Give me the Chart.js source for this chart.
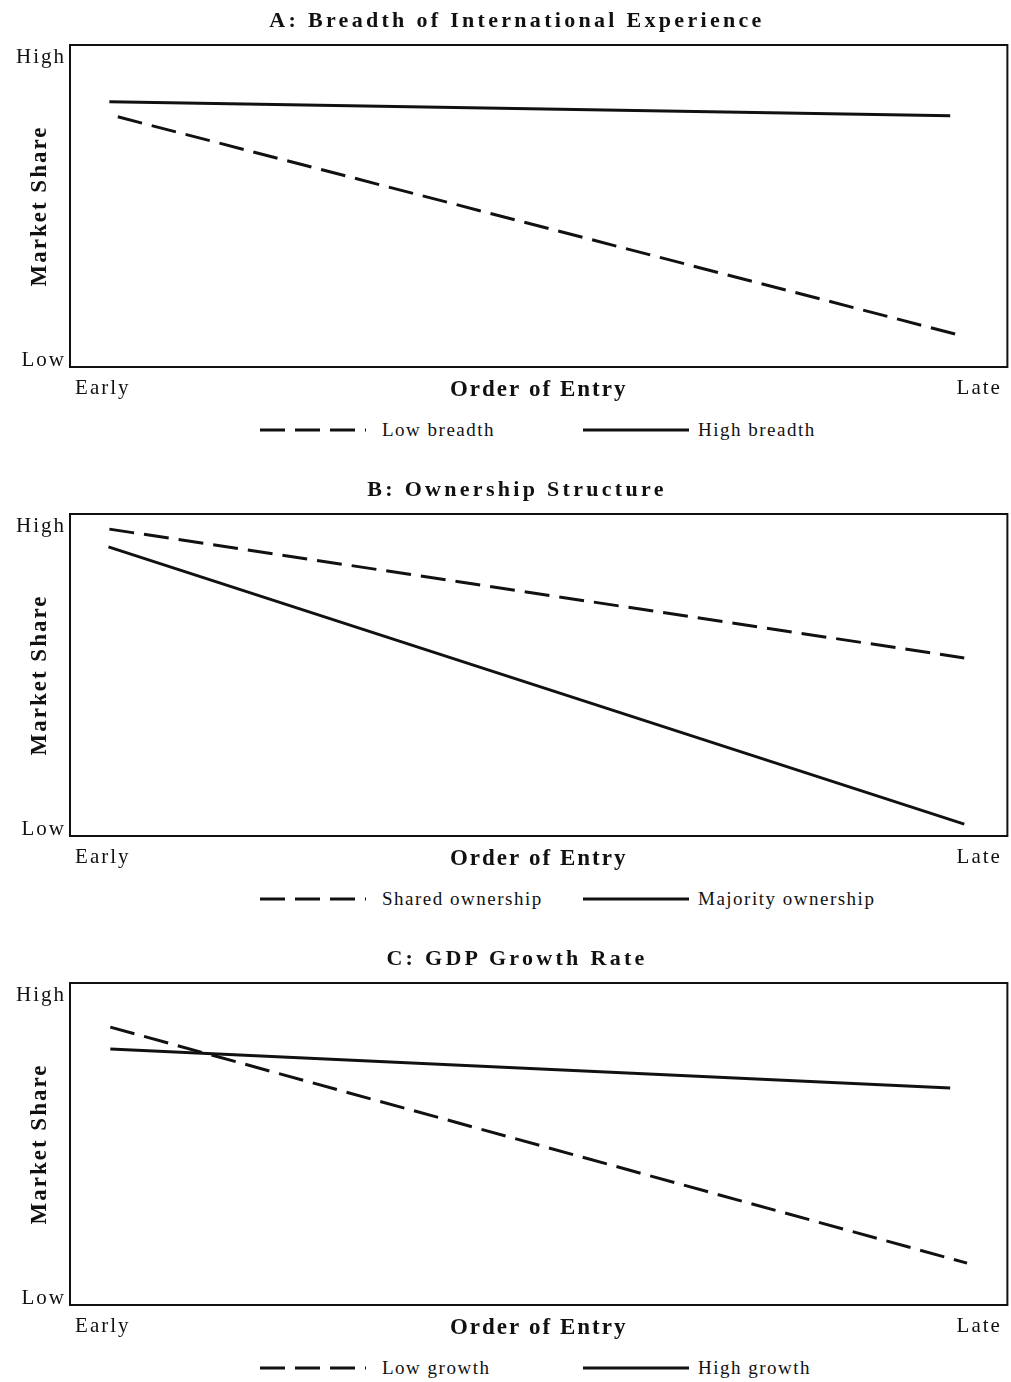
<!DOCTYPE html>
<html>
<head>
<meta charset="utf-8">
<script src="https://cdn.jsdelivr.net/npm/chart.js@4"></script>
<style>
  body { margin: 0; background: #fff; overflow: hidden; font-family: "Liberation Serif", serif; color: #111; }
  .panel { position: relative; width: 1011px; height: 469px; }
  .panel canvas { position: absolute; top: 0; left: 0; }
  .title { position: absolute; top: 7px; left: 0; width: 1034px; text-align: center; font-weight: bold;
           font-size: 22px; letter-spacing: 3.3px; line-height: 26px; }
  .legend { position: absolute; top: 418px; left: 260px; display: flex;
            font-size: 19px; letter-spacing: 1.5px; line-height: 24px; }
  .item { display: flex; align-items: center; }
  .item.first { width: 323px; }
  .item svg { margin-right: 9px; }
  .item.first svg { margin-right: 16px; }
</style>
</head>
<body>
<div id="page"></div>
<script>
// Textos de los paneles
const titles = ['A: Breadth of International Experience', 'B: Ownership Structure', 'C: GDP Growth Rate'];
const dashedNames = ['Low breadth', 'Shared ownership', 'Low growth'];
const solidNames = ['High breadth', 'Majority ownership', 'High growth'];

// Ejes: etiquetas y posiciones de los ticks (escala 0-100)
const xTickLabels = ['Early', 'Late'];
const xTickValues = [3.5, 97];
const yTickLabels = ['Low', 'High'];
const yTickValues = [2, 96];

// Datos (x = orden de entrada, y = cuota de mercado)
const dashedX = [[5.1, 94.9], [4.2, 95.4], [4.3, 95.7]];
const dashedY = [[77.7, 9.9], [95.3, 55.3], [86.3, 13.0]];
const solidX = [[4.2, 93.9], [4.1, 95.4], [4.3, 93.9]];
const solidY = [[82.4, 78.0], [89.8, 3.7], [79.5, 67.4]];

const DASH = [25, 10];
const INK = '#111';

Chart.defaults.font.family = '"Liberation Serif", serif';
Chart.defaults.color = INK;

// Marco alrededor del área del gráfico + espaciado de letras
const frame = {
  id: 'frame',
  beforeLayout(chart) { chart.ctx.letterSpacing = '2px'; },
  beforeDraw(chart) { chart.ctx.letterSpacing = '2px'; },
  afterDraw(chart) {
    const { ctx, chartArea: a } = chart;
    ctx.save();
    ctx.strokeStyle = INK;
    ctx.lineWidth = 2;
    ctx.strokeRect(a.left, a.top, a.right - a.left, a.bottom - a.top);
    ctx.restore();
  }
};

function points(xs, ys) {
  return xs.map((x, k) => ({ x: x, y: ys[k] }));
}

function legendItem(name, dashed) {
  const item = document.createElement('div');
  item.className = dashed ? 'item first' : 'item';
  item.innerHTML = '<svg width="106" height="10"><line x1="0" y1="5" x2="106" y2="5" stroke="' + INK +
    '" stroke-width="3"' + (dashed ? ' stroke-dasharray="' + DASH.join(' ') + '"' : '') + '/></svg>';
  const span = document.createElement('span');
  span.textContent = name;
  item.appendChild(span);
  return item;
}

const page = document.getElementById('page');

titles.forEach((title, i) => {
  const panel = document.createElement('div');
  panel.className = 'panel';

  const canvas = document.createElement('canvas');
  canvas.width = 1011;
  canvas.height = 410;
  panel.appendChild(canvas);

  const t = document.createElement('div');
  t.className = 'title';
  t.textContent = title;
  panel.appendChild(t);

  const legend = document.createElement('div');
  legend.className = 'legend';
  legend.appendChild(legendItem(dashedNames[i], true));
  legend.appendChild(legendItem(solidNames[i], false));
  panel.appendChild(legend);

  page.appendChild(panel);

  new Chart(canvas, {
    type: 'line',
    data: {
      datasets: [
        { label: dashedNames[i], data: points(dashedX[i], dashedY[i]), borderDash: DASH },
        { label: solidNames[i], data: points(solidX[i], solidY[i]) }
      ]
    },
    options: {
      responsive: false,
      animation: false,
      layout: { padding: { top: 45, right: 3, left: 0, bottom: 0 } },
      plugins: { legend: { display: false }, tooltip: { enabled: false } },
      elements: {
        point: { radius: 0 },
        line: { borderWidth: 3, borderColor: INK, tension: 0, fill: false }
      },
      scales: {
        x: {
          type: 'linear', min: 0, max: 100,
          grid: { display: false, drawTicks: false },
          border: { display: false },
          afterBuildTicks: s => { s.ticks = xTickValues.map(v => ({ value: v })); },
          afterFit: s => { s.height = 43; },
          ticks: { padding: 9, maxRotation: 0, autoSkip: false, font: { size: 21 },
                   callback: (v, idx) => xTickLabels[idx] },
          title: { display: true, text: 'Order of Entry', font: { size: 23, weight: 'bold' },
                   padding: { top: 0, bottom: 6 } }
        },
        y: {
          type: 'linear', min: 0, max: 100,
          grid: { display: false, drawTicks: false },
          border: { display: false },
          afterBuildTicks: s => { s.ticks = yTickValues.map(v => ({ value: v })); },
          afterFit: s => { s.width = 70; },
          ticks: { padding: 4, autoSkip: false, font: { size: 21 },
                   callback: (v, idx) => yTickLabels[idx] },
          title: { display: true, text: 'Market Share', font: { size: 23, weight: 'bold' },
                   padding: { top: 26, bottom: 0 } }
        }
      }
    },
    plugins: [frame]
  });
});
</script>
</body>
</html>
